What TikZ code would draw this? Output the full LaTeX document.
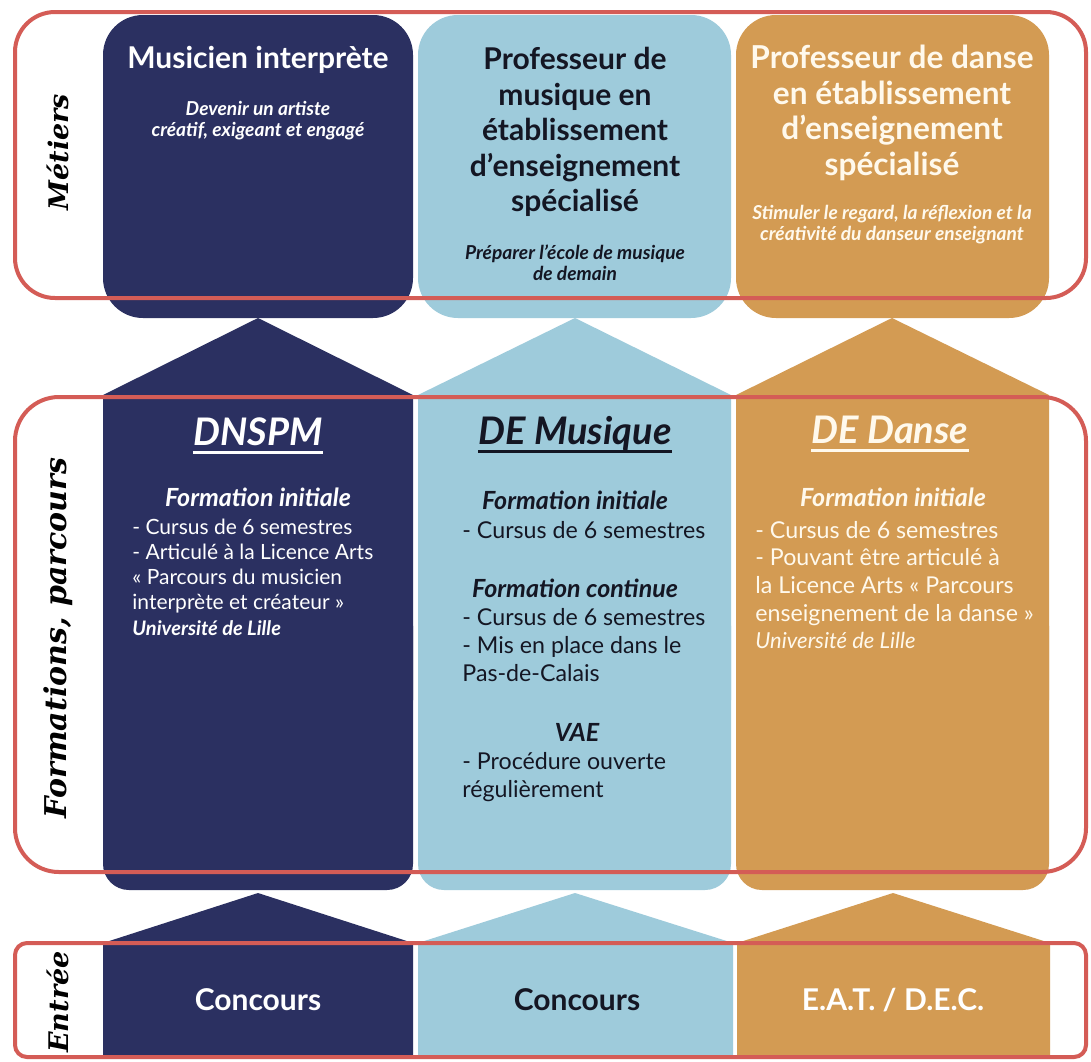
\documentclass[tikz,border=0pt]{standalone}
\usepackage{fontspec}
\setmainfont{Lato}
\newfontfamily\rowfont{DejaVu Serif}
\definecolor{navycol}{RGB}{43,48,97}
\definecolor{skycol}{RGB}{158,203,219}
\definecolor{ochrecol}{RGB}{211,155,83}
\definecolor{framecol}{RGB}{212,92,86}
\definecolor{creamcol}{RGB}{255,249,236}
\definecolor{inkcol}{RGB}{20,22,35}

\begin{document}
\begin{tikzpicture}[x=0.5pt,y=-0.5pt,
  rowframe/.style={draw=framecol,line width=2pt,rounded corners=#1},
  rowlabel/.style={rotate=90,font=\rowfont\bfseries\itshape\fontsize{13.5}{16}\selectfont},
  jobtitle/.style={align=center,font=\bfseries\fontsize{15}{17.7}\selectfont},
  jobaim/.style={align=center,font=\bfseries\itshape\fontsize{9.6}{10.5}\selectfont},
  diploma/.style={inner sep=0pt,font=\bfseries\itshape\fontsize{19}{22}\selectfont},
  track/.style={font=\bfseries\itshape\fontsize{12.5}{14}\selectfont},
  details/.style={anchor=west,align=left,inner sep=0pt,font=\fontsize{11.6}{13.8}\selectfont},
  entry/.style={font=\bfseries\fontsize{15}{17}\selectfont}]
  \useasboundingbox[fill=white] (0,0) rectangle (1091,1061);

  \fill[navycol,rounded corners=20pt] (103,15) rectangle (413,318);
  \fill[skycol,rounded corners=20pt] (418,15) rectangle (731,318);
  \fill[ochrecol,rounded corners=20pt] (736,15) rectangle (1049,318);

  \fill[navycol] (103,395) -- (258,318) -- (413,395) -- (413,700) -- (103,700) -- cycle;
  \fill[navycol,rounded corners=13pt] (103,600) rectangle (413,890);
  \fill[skycol] (418,395) -- (575,318) -- (731,395) -- (731,700) -- (418,700) -- cycle;
  \fill[skycol,rounded corners=13pt] (418,600) rectangle (731,890);
  \fill[ochrecol] (736,395) -- (892,318) -- (1049,395) -- (1049,700) -- (736,700) -- cycle;
  \fill[ochrecol,rounded corners=13pt] (736,600) rectangle (1049,890);

  \fill[navycol] (103,943) -- (258,893) -- (413,943) -- (413,1057) -- (103,1057) -- cycle;
  \fill[skycol] (418,943) -- (575,893) -- (733,943) -- (733,1057) -- (418,1057) -- cycle;
  \fill[ochrecol] (737,943) -- (893,893) -- (1050,943) -- (1050,1057) -- (737,1057) -- cycle;

  \draw[rowframe=20pt] (15,12) rectangle (1086,298);
  \draw[rowframe=22pt] (15,397) rectangle (1086,872);
  \draw[rowframe=6pt] (15,943) rectangle (1086,1057);

  \node (metiers) at (58,152) [rowlabel] {Métiers};
  \node (formations) at (58,638) [rowlabel,font=\rowfont\bfseries\itshape\fontsize{15}{17}\selectfont] {Formations, parcours};
  \node (entree) at (58,1002) [rowlabel] {Entrée};

  \node (musicien) at (258,60) [jobtitle,white] {Musicien interprète};
  \node (musicienaim) at (258,121) [jobaim,white] {Devenir un artiste\\créatif, exigeant et engagé};
  \node (profmusique) at (575,132) [jobtitle,inkcol] {Professeur de\\musique en\\établissement\\d’enseignement\\spécialisé};
  \node (profmusiqueaim) at (575,263) [jobaim,inkcol] {Préparer l’école de musique\\de demain};
  \node (profdanse) at (892,113) [jobtitle,creamcol,font=\bfseries\fontsize{15.8}{17.7}\selectfont] {Professeur de danse\\en établissement\\d’enseignement\\spécialisé};
  \node (profdanseaim) at (892,225) [jobaim,creamcol] {Stimuler le regard, la réflexion et la\\créativité du danseur enseignant};

  \node (dnspm) at (258,432) [diploma,white] {DNSPM};
  \draw[white,line width=1.5pt] ([yshift=-3.5pt]dnspm.base west) -- ([yshift=-3.5pt]dnspm.base east);
  \node (dnspminit) at (258,497) [track,white] {Formation initiale};
  \node (dnspmtext) at (132,577) [details,white,font=\fontsize{10.5}{12.6}\selectfont] {- Cursus de 6 semestres\\- Articulé à la Licence Arts\\«~Parcours du musicien\\interprète et créateur~»\\{\bfseries\itshape\fontsize{10}{11}\selectfont Université de Lille}};

  \node (musiquehead) at (575,434) [diploma,inkcol] {DE Musique};
  \draw[inkcol,line width=1.5pt] ([yshift=-3.5pt]musiquehead.base west) -- ([yshift=-3.5pt]musiquehead.base east);
  \node (musiqueinit) at (575,500) [track,inkcol] {Formation initiale};
  \node (musiqueinittext) at (462,530) [details,inkcol] {- Cursus de 6 semestres};
  \node (musiquecont) at (575,588) [track,inkcol] {Formation continue};
  \node (musiqueconttext) at (462,645) [details,inkcol] {- Cursus de 6 semestres\\- Mis en place dans le\\Pas-de-Calais};
  \node (musiquevae) at (577,732) [track,inkcol] {VAE};
  \node (musiquevaetext) at (462,777) [details,inkcol] {- Procédure ouverte\\régulièrement};

  \node (dansehead) at (890,430) [diploma,creamcol] {DE Danse};
  \draw[creamcol,line width=1.5pt] ([yshift=-3.5pt]dansehead.base west) -- ([yshift=-3.5pt]dansehead.base east);
  \node (danseinit) at (893,497) [track,creamcol] {Formation initiale};
  \node (dansetext) at (755,585) [details,creamcol] {- Cursus de 6 semestres\\- Pouvant être articulé à\\la Licence Arts «~Parcours\\enseignement de la danse~»\\{\itshape\fontsize{11}{12}\selectfont Université de Lille}};

  \node (concoursa) at (258,1000) [entry,white] {Concours};
  \node (concoursb) at (577,1000) [entry,inkcol] {Concours};
  \node (eatdec) at (893,1000) [entry,white] {E.A.T. / D.E.C.};
\end{tikzpicture}
\end{document}
